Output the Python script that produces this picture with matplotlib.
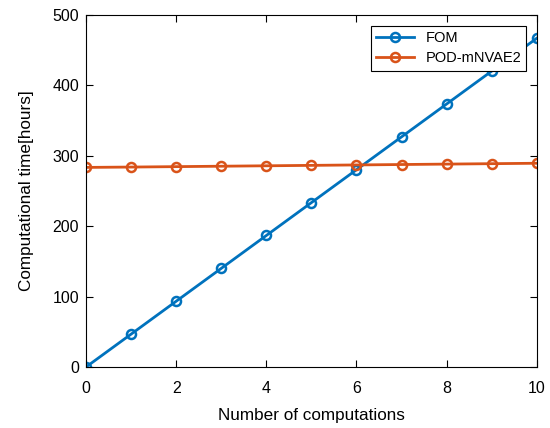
import matplotlib
matplotlib.use("Agg")
import matplotlib.pyplot as plt

plt.rcParams['font.family'] = ['Liberation Sans', 'DejaVu Sans']

computations = [0, 1, 2, 3, 4, 5, 6, 7, 8, 9, 10]
fom = [0, 46.7, 93.4, 140.1, 186.8, 233.5, 280.2, 326.9, 373.6, 420.3, 467.0]
pod = [283.5, 284.0, 284.6, 285.2, 285.8, 286.4, 287.0, 287.6, 288.2, 288.8, 289.4]
xticks = [0, 2, 4, 6, 8, 10]
yticks = [0, 100, 200, 300, 400, 500]

fig = plt.figure(figsize=(5.5, 4.28), dpi=100)
ax = fig.add_axes([0.1564, 0.1425, 0.8196, 0.8225])

ax.plot(computations, fom, '-o', color='#0072BD', lw=2, ms=6.5, mfc='none', mew=1.8, label='FOM')
ax.plot(computations, pod, '-o', color='#D95319', lw=2, ms=6.5, mfc='none', mew=1.8, label='POD-mNVAE2')

ax.set_xlim(0, 10)
ax.set_ylim(0, 500)
ax.set_xticks(xticks)
ax.set_yticks(yticks)
ax.tick_params(direction='in', top=True, right=True, labelsize=11.5, length=5, width=0.8)
ax.tick_params(axis='x', pad=10)
ax.tick_params(axis='y', pad=5)
for s in ax.spines.values():
    s.set_linewidth(0.8)
ax.set_xlabel('Number of computations', fontsize=12.3, labelpad=9)
ax.set_ylabel('Computational time[hours]', fontsize=12.3, labelpad=13)

leg = ax.legend(loc='upper right', fontsize=10.5, fancybox=False, edgecolor='black',
                framealpha=1, borderpad=0.35, handlelength=2.6, labelspacing=0.45,
                bbox_to_anchor=(0.993, 0.99))
leg.get_frame().set_linewidth(0.8)

fig.savefig('out.png', dpi=100)
